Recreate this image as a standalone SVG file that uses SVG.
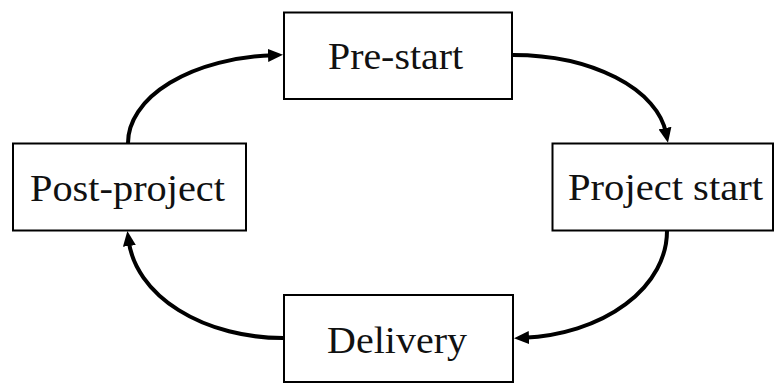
<svg xmlns="http://www.w3.org/2000/svg" width="775" height="385" viewBox="0 0 775 385">
<defs>
<style>
.box{fill:#fff;stroke:#000;stroke-width:2}
.lbl{font-family:"Liberation Serif","Times New Roman",serif;font-size:38px;fill:#111}
.arc{fill:none;stroke:#000;stroke-width:4}
</style>
<marker id="ah" markerUnits="userSpaceOnUse" viewBox="0 0 15 13" refX="5" refY="6.5" markerWidth="15" markerHeight="13" orient="auto">
<path d="M0,0 L15,6.5 L0,13 z" fill="#000"/>
</marker>
</defs>
<rect width="775" height="385" fill="#fff"/>
<g id="connectors">
<path class="arc" d="M128,143 A155,88 0 0 1 273,55.2" marker-end="url(#ah)"/>
<path class="arc" d="M513,55 A154,88 0 0 1 666,133" marker-end="url(#ah)"/>
<path class="arc" d="M667,231 A153,107 0 0 1 524,337.8" marker-end="url(#ah)"/>
<path class="arc" d="M283,338 A155,107 0 0 1 128.7,241" marker-end="url(#ah)"/>
</g>
<g id="pre-start">
<rect class="box" x="284" y="12.5" width="228" height="86.5"/>
<text class="lbl" x="328" y="69" textLength="135" lengthAdjust="spacingAndGlyphs">Pre-start</text>
</g>
<g id="post-project">
<rect class="box" x="13" y="143.5" width="233" height="87"/>
<text class="lbl" x="30" y="200.5" textLength="195" lengthAdjust="spacingAndGlyphs">Post-project</text>
</g>
<g id="project-start">
<rect class="box" x="552.5" y="143.5" width="220.5" height="87"/>
<text class="lbl" x="568" y="200" textLength="195" lengthAdjust="spacingAndGlyphs">Project start</text>
</g>
<g id="delivery">
<rect class="box" x="284" y="295" width="229" height="87"/>
<text class="lbl" x="327" y="352.5" textLength="140" lengthAdjust="spacingAndGlyphs">Delivery</text>
</g>
</svg>
